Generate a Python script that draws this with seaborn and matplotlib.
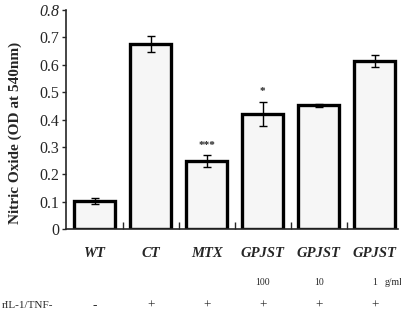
import seaborn as sns
import matplotlib.pyplot as plt
import pandas as pd
import numpy as np

# 数据
groups = ["WT", "CT", "MTX", "GPJST", "GPJST", "GPJST"]
keys = ["WT", "CT", "MTX", "GPJST100", "GPJST10", "GPJST1"]
values = [0.103, 0.675, 0.248, 0.42, 0.452, 0.612]
errors = [0.010, 0.030, 0.022, 0.045, 0.006, 0.022]
doses = ["", "", "", "100", "10", "1"]
stim = ["-", "+", "+", "+", "+", "+"]
stars = ["", "", "***", "*", "", ""]

df = pd.DataFrame({"key": keys, "value": values})

sns.set_style("ticks")
plt.rcParams['font.family'] = ['Liberation Serif', 'DejaVu Serif']

fig = plt.figure(figsize=(4.01, 3.23), dpi=100)
ax = fig.add_axes([0.165, 0.291, 0.828, 0.678])

sns.barplot(data=df, x="key", y="value", order=keys, color="#f6f6f6",
            edgecolor="black", linewidth=2.4, width=0.73, saturation=1,
            errorbar=None, ax=ax)
xs = np.arange(len(keys))
ax.errorbar(xs, values, yerr=errors, fmt="none", ecolor="black",
            elinewidth=1, capsize=3, capthick=1)

for x, v, e, s in zip(xs, values, errors, stars):
    if s:
        ax.text(x, v + e + 0.02, s, ha="center", va="bottom", fontsize=8,
                fontweight="bold")

ax.set_xlim(-0.51, 5.42)
ax.set_ylim(0, 0.8)
ax.set_yticks(np.arange(0, 0.81, 0.1))
ax.set_yticklabels(["0"] + [f"{t:.1f}" for t in np.arange(0.1, 0.75, 0.1)] + ["0.8"],
                   fontsize=11.5)
ax.get_yticklabels()[-1].set_style("italic")
ax.tick_params(axis="y", length=3, width=1, pad=2)

ax.set_xticks(xs)
ax.set_xticklabels(groups, fontsize=10.5, fontweight="bold", style="italic")
ax.tick_params(axis="x", length=0, pad=13)
ax.set_xticks(xs[:-1] + 0.5, minor=True)
ax.tick_params(axis="x", which="minor", direction="in", length=5, width=1)

ax.set_xlabel("")
ax.set_ylabel("Nitric Oxide (OD at 540nm)", fontsize=11, fontweight="bold")
ax.yaxis.set_label_coords(-0.134, 0.44)
sns.despine(ax=ax)
for sp in ax.spines.values():
    sp.set_linewidth(1.2)

trans = ax.get_xaxis_transform()
for x, d in zip(xs, doses):
    if d:
        ax.text(x, -0.243, d, transform=trans, ha="center", va="center", fontsize=7)
ax.text(5.17, -0.243, "g/ml", transform=trans, ha="left", va="center", fontsize=7)
for x, s in zip(xs, stim):
    ax.text(x, -0.35, s, transform=trans, ha="center", va="center", fontsize=9.5)
fig.text(0.005, 0.055, "rIL-1/TNF-", ha="left", va="center", fontsize=8)

plt.savefig("out.png", dpi=100)
